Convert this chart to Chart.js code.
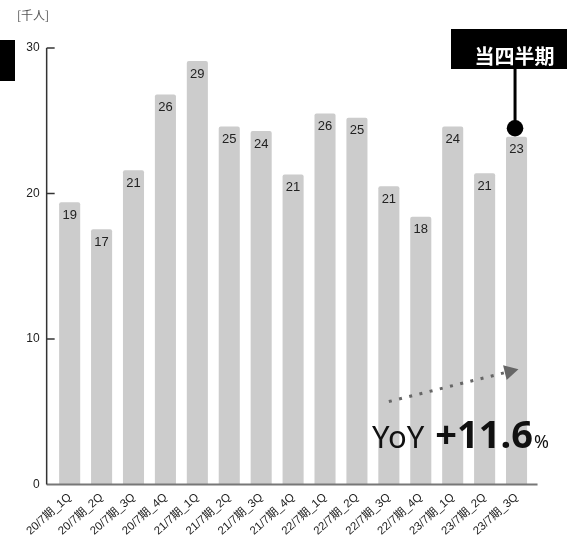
<!DOCTYPE html>
<html><head><meta charset="utf-8">
<script src="https://cdn.jsdelivr.net/npm/chart.js@4"></script>
<style>html,body{margin:0;padding:0;background:#fff;}canvas{display:block;}</style>
</head><body>
<canvas id="c" width="567" height="548"></canvas>
<script>
const categories = ['20/7期_1Q','20/7期_2Q','20/7期_3Q','20/7期_4Q','21/7期_1Q','21/7期_2Q','21/7期_3Q','21/7期_4Q','22/7期_1Q','22/7期_2Q','22/7期_3Q','22/7期_4Q','23/7期_1Q','23/7期_2Q','23/7期_3Q'];
const values = [19.4,17.55,21.6,26.8,29.1,24.6,24.3,21.3,25.5,25.2,20.5,18.4,24.6,21.4,23.9];
const valueLabels = ['19','17','21','26','29','25','24','21','26','25','21','18','24','21','23'];
const yTicks = [0,10,20,30];
const unitLabel = '[千人]';
const calloutText = '当四半期';
const yoyPrefix = 'YoY', yoyValue = '+11.6', yoySuffix = '%';
const arrowFrom = {index: 10, value: 5.7};
const arrowTo = {index: 14.06, value: 7.92};

const FONT = "'Liberation Sans','Noto Sans CJK JP',sans-serif";
Chart.defaults.font.family = FONT;

const deco = {
  id: 'deco',
  afterDatasetsDraw(chart) {
    const ctx = chart.ctx, xs = chart.scales.x, ys = chart.scales.y;
    const meta = chart.getDatasetMeta(0);
    const step = xs.getPixelForValue(1) - xs.getPixelForValue(0);
    const axL = xs.getPixelForValue(0) - 23, axR = xs.getPixelForValue(categories.length - 1) + 21;
    const y0 = ys.getPixelForValue(0), yTop = ys.getPixelForValue(yTicks[yTicks.length - 1]);
    ctx.save();
    // value labels
    ctx.font = '13px ' + FONT; ctx.fillStyle = '#222'; ctx.textAlign = 'center'; ctx.textBaseline = 'middle';
    meta.data.forEach((b, i) => ctx.fillText(valueLabels[i], b.x, b.y + 13));
    // bottom axis
    ctx.strokeStyle = '#777'; ctx.lineWidth = 2;
    ctx.beginPath(); ctx.moveTo(axL, y0); ctx.lineTo(axR, y0); ctx.stroke();
    // y axis
    ctx.strokeStyle = '#333'; ctx.lineWidth = 1.5;
    ctx.beginPath(); ctx.moveTo(axL, yTop); ctx.lineTo(axL, y0); ctx.stroke();
    yTicks.forEach(t => { if (t === 0) return; const y = ys.getPixelForValue(t);
      ctx.beginPath(); ctx.moveTo(axL, y); ctx.lineTo(axL + 8, y); ctx.stroke(); });
    // dotted arrow
    const px = o => xs.getPixelForValue(Math.floor(o.index)) + (o.index - Math.floor(o.index)) * step;
    const sx = px(arrowFrom), sy = ys.getPixelForValue(arrowFrom.value);
    const tx = px(arrowTo), ty = ys.getPixelForValue(arrowTo.value);
    const ang = Math.atan2(ty - sy, tx - sx);
    const bx = tx - 14 * Math.cos(ang), by = ty - 14 * Math.sin(ang);
    ctx.strokeStyle = '#666'; ctx.lineWidth = 3; ctx.setLineDash([3, 7.5]);
    ctx.beginPath(); ctx.moveTo(sx, sy); ctx.lineTo(bx, by); ctx.stroke(); ctx.setLineDash([]);
    ctx.fillStyle = '#666'; ctx.beginPath(); ctx.moveTo(tx, ty);
    ctx.lineTo(bx + 7.5 * Math.sin(ang), by - 7.5 * Math.cos(ang));
    ctx.lineTo(bx - 7.5 * Math.sin(ang), by + 7.5 * Math.cos(ang)); ctx.closePath(); ctx.fill();
    // YoY text
    ctx.textAlign = 'left'; ctx.textBaseline = 'alphabetic'; ctx.fillStyle = '#111';
    let x = 372; const base = 448;
    ctx.font = "31px 'Noto Sans',sans-serif"; ctx.fillText(yoyPrefix, x, base); x += ctx.measureText(yoyPrefix).width + 11;
    ctx.font = "bold 38px 'Noto Sans',sans-serif"; ctx.fillText(yoyValue, x, base); x += ctx.measureText(yoyValue).width + 1;
    ctx.font = "18px 'Noto Sans',sans-serif"; ctx.fillText(yoySuffix, x, base);
    // callout
    const last = meta.data[meta.data.length - 1];
    ctx.fillStyle = '#000'; ctx.fillRect(451, 29, 120, 40);
    ctx.strokeStyle = '#000'; ctx.lineWidth = 3;
    ctx.beginPath(); ctx.moveTo(last.x - 1.5, 69); ctx.lineTo(last.x - 1.5, last.y - 8); ctx.stroke();
    ctx.beginPath(); ctx.arc(last.x - 1.5, last.y - 8.5, 8.3, 0, Math.PI * 2); ctx.fill();
    ctx.fillStyle = '#fff'; ctx.font = "bold 20px 'Noto Sans CJK JP',sans-serif"; ctx.textAlign = 'center'; ctx.textBaseline = 'middle';
    ctx.fillText(calloutText, 514.5, 56);
    // unit label and left block
    ctx.fillStyle = '#555'; ctx.font = "12px 'Noto Sans CJK JP',sans-serif"; ctx.textAlign = 'left';
    ctx.fillText(unitLabel, 17, 15);
    ctx.fillStyle = '#000'; ctx.fillRect(0, 40, 15, 41);
    ctx.restore();
  }
};

new Chart(document.getElementById('c'), {
  type: 'bar',
  data: { labels: categories, datasets: [{ data: values, backgroundColor: '#cccccc',
    borderRadius: {topLeft: 2, topRight: 2, bottomLeft: 0, bottomRight: 0}, borderSkipped: 'start',
    categoryPercentage: 1, barPercentage: 0.66 }] },
  options: {
    responsive: false, animation: false, devicePixelRatio: 1,
    layout: { padding: { left: 0, top: 48, right: 34.5, bottom: 0 } },
    plugins: { legend: { display: false }, tooltip: { enabled: false } },
    scales: {
      x: { grid: { display: false, drawTicks: false }, border: { display: false },
        ticks: { color: '#222', font: { size: 11.5 }, minRotation: 42, maxRotation: 42, padding: 6, autoSkip: false },
        afterFit: s => { s.height = 63.5; } },
      y: { min: 0, max: 30, grid: { display: false, drawTicks: false }, border: { display: false },
        ticks: { stepSize: 10, color: '#222', font: { size: 12 }, padding: 14 },
        afterFit: s => { s.width = 53.7; } }
    }
  },
  plugins: [deco]
});
</script>
</body></html>
